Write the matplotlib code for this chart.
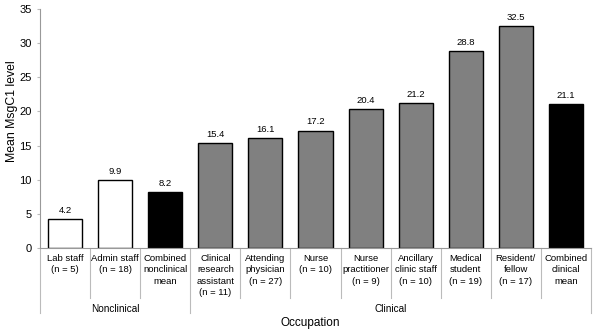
import matplotlib
matplotlib.use("Agg")
import matplotlib.pyplot as plt
import matplotlib.transforms as mtransforms

categories = ["Lab staff\n(n = 5)", "Admin staff\n(n = 18)", "Combined\nnonclinical\nmean",
              "Clinical\nresearch\nassistant\n(n = 11)", "Attending\nphysician\n(n = 27)",
              "Nurse\n(n = 10)", "Nurse\npractitioner\n(n = 9)", "Ancillary\nclinic staff\n(n = 10)",
              "Medical\nstudent\n(n = 19)", "Resident/\nfellow\n(n = 17)", "Combined\nclinical\nmean"]
values = [4.2, 9.9, 8.2, 15.4, 16.1, 17.2, 20.4, 21.2, 28.8, 32.5, 21.1]
kinds = ["open", "open", "mean", "bar", "bar", "bar", "bar", "bar", "bar", "bar", "mean"]
groups = ["Nonclinical", "Clinical"]
group_sizes = [3, 8]

fill = {"open": "white", "bar": "#808080", "mean": "black"}

plt.rcParams['font.family'] = ['Liberation Sans', 'DejaVu Sans']

fig = plt.figure(figsize=(6, 3.32), dpi=100)
ax = fig.add_axes([40 / 600, 1 - 248 / 332, 551 / 600, 239 / 332])

x = list(range(len(values)))
ax.bar(x, values, width=0.68, color=[fill[k] for k in kinds], edgecolor="black", linewidth=1.0)
for xi, v in zip(x, values):
    ax.text(xi, v + 0.6, f"{v:.1f}", ha="center", va="bottom", fontsize=6.8)

ax.set_xlim(-0.5, len(values) - 0.5)
ax.set_ylim(0, 35)
ax.set_yticks(range(0, 36, 5))
ax.tick_params(axis="y", labelsize=8, length=2, color="#bbbbbb", pad=4)
ax.tick_params(axis="x", bottom=False, labelbottom=False)
for s in ["top", "right"]:
    ax.spines[s].set_visible(False)
for s in ["left", "bottom"]:
    ax.spines[s].set_color("#999999")
ax.set_ylabel("Mean MsgC1 level", fontsize=8.8)
ax.yaxis.set_label_coords(-22 / 551, 0.573)

trans = mtransforms.blended_transform_factory(ax.transData, ax.transAxes)
for xi, lab in zip(x, categories):
    ax.text(xi, -0.025, lab, transform=trans, ha="center", va="top", fontsize=6.8,
            linespacing=1.35)

# separators between categories and groups
bounds = [sum(group_sizes[:i]) - 0.5 for i in range(len(group_sizes) + 1)]
for b in [i - 0.5 for i in range(len(values) + 1)]:
    low = -0.272 if b in bounds else -0.209
    ax.plot([b, b], [0, low], transform=trans, color="#bbbbbb", lw=0.8, clip_on=False)

for g, lo, hi in zip(groups, bounds[:-1], bounds[1:]):
    ax.text((lo + hi) / 2, -0.255, g, transform=trans, ha="center", va="center", fontsize=7.2)

ax.text(0.49, -0.315, "Occupation", transform=ax.transAxes, ha="center", va="center", fontsize=8.5)

fig.savefig("out.png", dpi=100)
